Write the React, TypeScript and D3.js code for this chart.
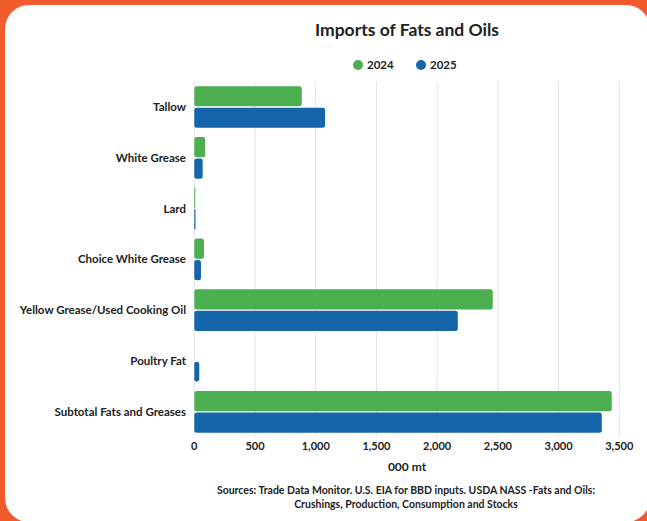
import React from "react";
import * as d3 from "d3";

const categories = [
  "Tallow",
  "White Grease",
  "Lard",
  "Choice White Grease",
  "Yellow Grease/Used Cooking Oil",
  "Poultry Fat",
  "Subtotal Fats and Greases",
];
const series = ["2024", "2025"];
const values2024 = [885, 90, 8, 80, 2458, 0, 3438];
const values2025 = [1077, 69, 10, 55, 2170, 41, 3356];
const xTicks = [0, 500, 1000, 1500, 2000, 2500, 3000, 3500];
const colors = ["#4CAF4F", "#1565AA"];

const W = 647;
const H = 521;
const FONT = "Lato, 'Open Sans', sans-serif";

export default function App() {
  React.useEffect(() => {
    document.body.style.margin = "0";
  }, []);

  const x = d3.scaleLinear().domain([0, 3500]).range([194.3, 619.3]);
  const y = d3
    .scaleBand<string>()
    .domain(categories)
    .range([81.6, 437.2])
    .paddingInner(0.18)
    .paddingOuter(0.09);
  const ySub = d3
    .scaleBand<string>()
    .domain(series)
    .range([0, y.bandwidth()])
    .paddingInner(0.06);
  const data = [values2024, values2025];
  const fmt = d3.format(",");

  return (
    <svg
      width={W}
      height={H}
      style={{ position: "absolute", left: 0, top: 0, display: "block" }}
      fontFamily={FONT}
    >
      <rect x={0} y={0} width={W} height={H} fill="#F15A2B" />
      <rect x={5} y={5} width={645} height={517} rx={24} ry={24} fill="#FFFFFF" />

      <text x={407} y={36} textAnchor="middle" fontSize={17.5} fontWeight={700} fill="#222">
        Imports of Fats and Oils
      </text>

      {series.map((s, i) => (
        <g key={s} transform={`translate(${358 + i * 63},65)`}>
          <circle cx={0} cy={0} r={5} fill={colors[i]} />
          <text x={9} y={4} fontSize={11.5} fontWeight={700} fill="#222">
            {s}
          </text>
        </g>
      ))}

      {xTicks.map((t) => (
        <line
          key={t}
          x1={x(t)}
          x2={x(t)}
          y1={81.6}
          y2={437.2}
          stroke="#E4E4E4"
          strokeWidth={1}
        />
      ))}

      {categories.map((c, ci) => (
        <g key={c}>
          {series.map((s, si) => {
            const v = data[si][ci];
            if (v <= 0) return null;
            const w = x(v) - x(0);
            return (
              <rect
                key={s}
                x={x(0)}
                y={(y(c) as number) + (ySub(s) as number)}
                width={w}
                height={ySub.bandwidth()}
                rx={Math.min(2.5, w / 2)}
                fill={colors[si]}
              />
            );
          })}
          <text
            x={186}
            y={(y(c) as number) + y.bandwidth() / 2 + 4}
            textAnchor="end"
            fontSize={11.5}
            fontWeight={700}
            fill="#222"
          >
            {c}
          </text>
        </g>
      ))}

      {xTicks.map((t) => (
        <text
          key={t}
          x={x(t)}
          y={450}
          textAnchor="middle"
          fontSize={11}
          fontWeight={700}
          fill="#222"
        >
          {fmt(t)}
        </text>
      ))}

      <text x={407} y={471} textAnchor="middle" fontSize={12} fontWeight={700} fill="#222">
        000 mt
      </text>
      <text x={406} y={494} textAnchor="middle" fontSize={10.5} fontWeight={700} fill="#222">
        Sources: Trade Data Monitor. U.S. EIA for BBD inputs. USDA NASS -Fats and Oils:
      </text>
      <text x={406} y={508} textAnchor="middle" fontSize={10.5} fontWeight={700} fill="#222">
        Crushings, Production, Consumption and Stocks
      </text>
    </svg>
  );
}
